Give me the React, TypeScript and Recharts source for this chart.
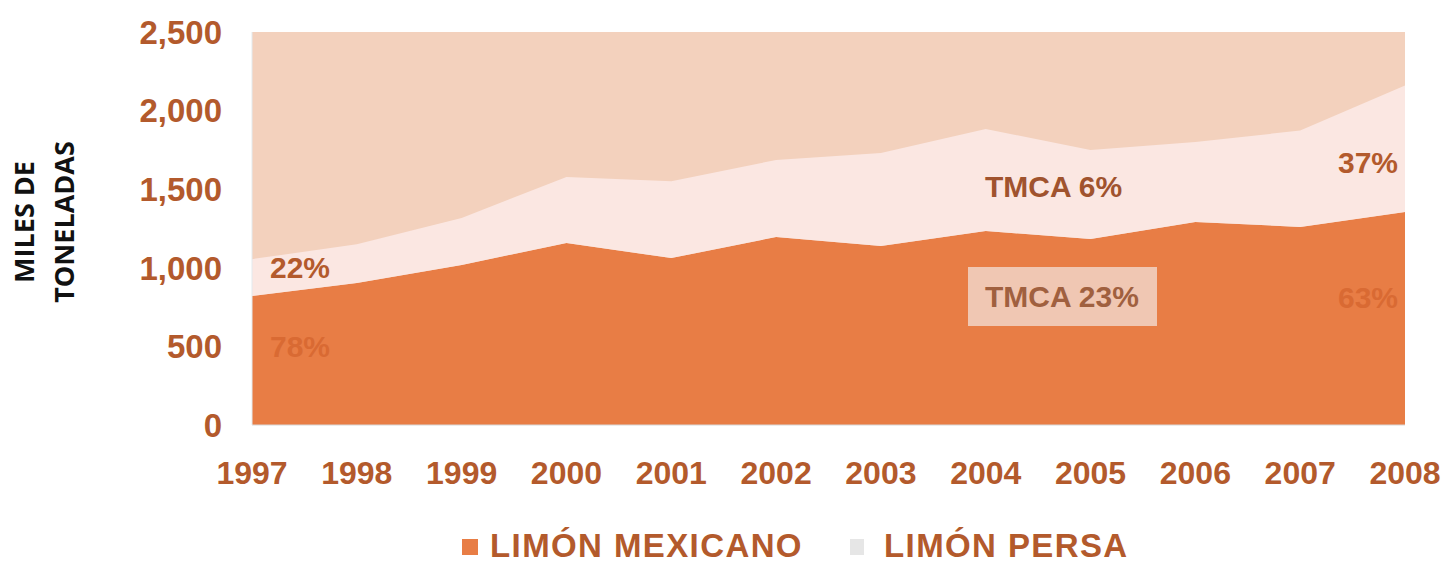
import { AreaChart, Area, XAxis, YAxis, CartesianGrid } from "recharts";

const years = ["1997", "1998", "1999", "2000", "2001", "2002", "2003", "2004", "2005", "2006", "2007", "2008"];
const limonMexicano = [821, 903, 1018, 1158, 1062, 1196, 1139, 1234, 1183, 1291, 1260, 1355];
const limonPersa = [234, 247, 299, 420, 488, 490, 591, 649, 566, 509, 613, 805];
const yTicks = [0, 500, 1000, 1500, 2000, 2500];

const data = years.map((year, i) => ({
  year,
  mexicano: limonMexicano[i],
  persa: limonPersa[i],
}));

const FONT = "'Liberation Sans', Arial, sans-serif";
const TEXT = "#B35A2C";

const notes = [
  { text: "22%", left: 270, top: 268, color: TEXT },
  { text: "78%", left: 270, top: 347, color: "#D96A33" },
  { text: "TMCA 6%", left: 985, top: 187, color: "#A0532E" },
  { text: "TMCA 23%", left: 985, top: 297, color: "#A0603F" },
  { text: "37%", left: 1338, top: 163, color: TEXT },
  { text: "63%", left: 1338, top: 298, color: "#D96A33" },
];

const legendText = {
  position: "absolute" as const,
  top: 546,
  transform: "translateY(-50%)",
  color: TEXT,
  fontSize: 33,
  fontWeight: 700,
  letterSpacing: 1.4,
  lineHeight: 1.1,
  whiteSpace: "nowrap" as const,
};

export default function App() {
  return (
    <div style={{ position: "absolute", left: 0, top: 0, width: 1446, height: 565, background: "#fff", fontFamily: FONT, overflow: "hidden" }}>
      <AreaChart width={1446} height={565} data={data} margin={{ top: 32, right: 41, bottom: 0, left: 0 }}>
        <CartesianGrid horizontal={false} vertical={false} fill="#F3D1BD" />
        <XAxis
          dataKey="year"
          height={140}
          tickSize={0}
          tickMargin={36}
          tickLine={false}
          axisLine={{ stroke: "#D8D8D8" }}
          tick={{ fill: TEXT, fontSize: 32, fontWeight: 700, fontFamily: FONT }}
        />
        <YAxis
          width={252}
          domain={[0, 2500]}
          ticks={yTicks}
          tickSize={0}
          tickMargin={30}
          tickLine={false}
          axisLine={{ stroke: "#E3EAEE" }}
          tickFormatter={(v: number) => v.toLocaleString("en-US")}
          tick={{ fill: TEXT, fontSize: 33, fontWeight: 700, fontFamily: FONT }}
        />
        <Area
          type="linear"
          dataKey="mexicano"
          stackId="1"
          stroke="none"
          fill="#E87D45"
          fillOpacity={1}
          isAnimationActive={false}
          name="LIMÓN MEXICANO"
        />
        <Area
          type="linear"
          dataKey="persa"
          stackId="1"
          stroke="none"
          fill="#FBE7E2"
          fillOpacity={1}
          isAnimationActive={false}
          name="LIMÓN PERSA"
        />
      </AreaChart>

      {/* box behind TMCA 23% */}
      <div style={{ position: "absolute", left: 968, top: 267, width: 189, height: 59, background: "#F0C7B3" }} />

      {notes.map((n) => (
        <div
          key={n.text}
          style={{
            position: "absolute",
            left: n.left,
            top: n.top,
            transform: "translateY(-50%)",
            color: n.color,
            fontSize: 30,
            fontWeight: 700,
            whiteSpace: "nowrap",
            lineHeight: 1,
          }}
        >
          {n.text}
        </div>
      ))}

      {/* axis title */}
      <div
        style={{
          position: "absolute",
          left: 44,
          top: 222,
          transform: "translate(-50%, -50%) rotate(-90deg)",
          fontFamily: "'Open Sans', sans-serif",
          fontWeight: 700,
          fontSize: 27,
          lineHeight: "40px",
          textAlign: "center",
          color: "#111",
          whiteSpace: "nowrap",
        }}
      >
        MILES DE
        <br />
        TONELADAS
      </div>

      {/* legend */}
      <div style={{ position: "absolute", left: 462, top: 539, width: 16, height: 16, background: "#E87D45" }} />
      <div style={{ ...legendText, left: 490 }}>LIMÓN MEXICANO</div>
      <div style={{ position: "absolute", left: 850, top: 539, width: 14, height: 16, background: "#E6E6E6" }} />
      <div style={{ ...legendText, left: 884 }}>LIMÓN PERSA</div>
    </div>
  );
}
